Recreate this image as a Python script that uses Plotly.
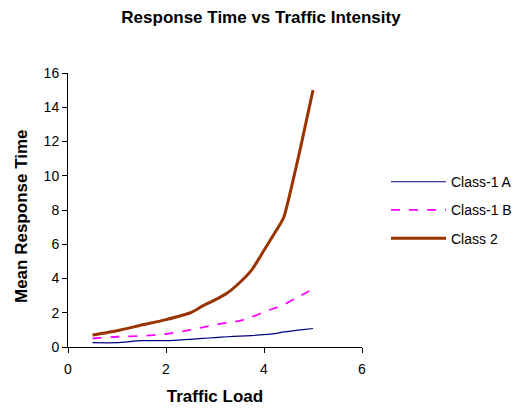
import plotly.graph_objects as go

traffic_load = [0.5, 1.0, 1.5, 2.0, 2.5, 2.75, 3.0, 3.25, 3.5, 3.75, 4.0, 4.25, 4.4, 4.55, 4.75, 5.0]
class1a = [0.25, 0.25, 0.37, 0.37, 0.45, 0.5, 0.55, 0.6, 0.63, 0.67, 0.72, 0.8, 0.88, 0.93, 1.0, 1.08]
class1b = [0.5, 0.6, 0.65, 0.76, 1.0, 1.15, 1.3, 1.42, 1.52, 1.75, 2.05, 2.3, 2.46, 2.7, 3.0, 3.4]
class2 = [0.7, 0.95, 1.28, 1.6, 2.0, 2.4, 2.75, 3.15, 3.75, 4.5, 5.65, 6.8, 7.55, 9.2, 11.7, 15.0]

series_names = ["Class-1 A", "Class-1 B", "Class 2"]
series_values = [class1a, class1b, class2]
series_colors = ["#000080", "#FF00FF", "#993300"]
series_dash = ["solid", "dash", "solid"]
series_width = [1.2, 1.8, 3]

fig = go.Figure()
for i, (n, v, c, d, w) in enumerate(zip(series_names, series_values, series_colors, series_dash, series_width)):
    fig.add_trace(go.Scatter(x=traffic_load, y=v, mode="lines", name=n,
                             legendgroup=f"g{i}",
                             line=dict(color=c, dash=d, width=w, shape="spline", smoothing=0.6)))

fig.update_layout(
    width=522, height=415,
    margin=dict(l=68, r=160, t=73, b=68, autoexpand=False),
    paper_bgcolor="white", plot_bgcolor="white",
    font=dict(family="Liberation Sans, Arial, sans-serif", size=14, color="black"),
    title=dict(text="<b>Response Time vs Traffic Intensity</b>", x=0.5, xref="container",
               xanchor="center", y=1 - 17 / 415, yanchor="middle", yref="container",
               font=dict(size=17)),
    showlegend=True,
    legend=dict(x=(386 - 68) / 294, y=0.66, xanchor="left", yanchor="top", tracegroupgap=7,
                itemwidth=55, font=dict(size=14), bgcolor="rgba(0,0,0,0)"),
    annotations=[dict(text="<b>Mean Response Time</b>", textangle=-90, xref="paper", yref="paper",
                      x=(21 - 68) / 294, y=(347 - 216) / 274, xanchor="center", yanchor="middle",
                      showarrow=False, font=dict(size=17))],
)
fig.update_xaxes(range=[0, 6], tickvals=[0, 2, 4, 6], showline=True, linecolor="black",
                 linewidth=1, ticks="outside", ticklen=5, tickcolor="black", showgrid=False,
                 zeroline=False, ticklabelstandoff=4,
                 title=dict(text="<b>Traffic Load</b>", standoff=14, font=dict(size=17)))
fig.update_yaxes(range=[0, 16], dtick=2, showline=True, linecolor="black", linewidth=1,
                 ticks="outside", ticklen=5, tickcolor="black", showgrid=False, zeroline=False)

fig.write_html("out.html")
